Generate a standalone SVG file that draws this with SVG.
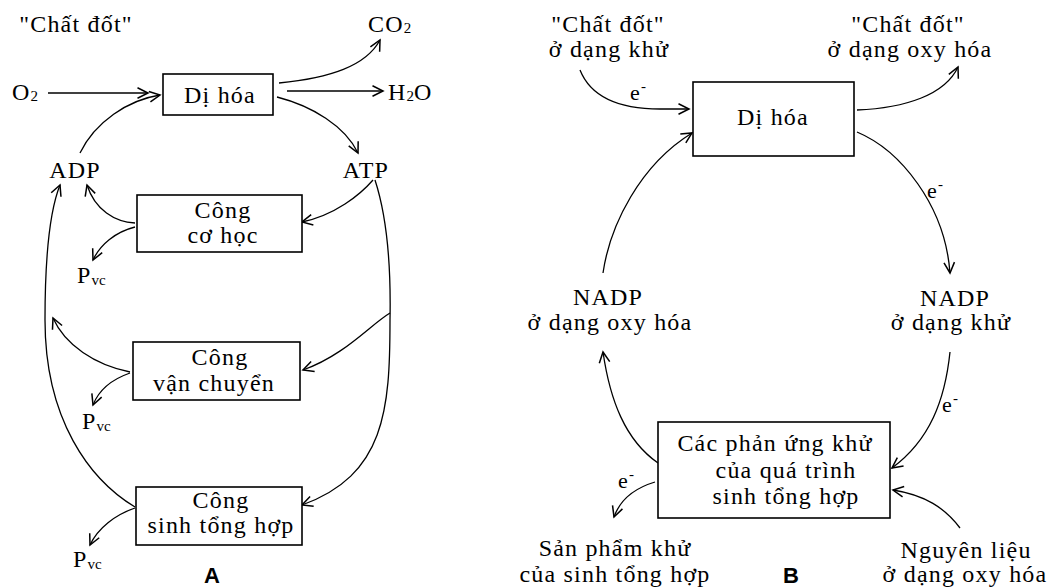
<svg xmlns="http://www.w3.org/2000/svg" width="1055" height="588" viewBox="0 0 1055 588">
<style>
.t{font-family:"Liberation Serif","Times New Roman",serif;font-size:24px;letter-spacing:1.2px;fill:#000}
.m{text-anchor:middle}
.s{font-size:15px;letter-spacing:0}
.e{font-size:22px}
.lbl{font-family:"Liberation Sans",Arial,sans-serif;font-weight:bold;font-size:22px;fill:#000;text-anchor:middle}
.box{fill:#fff;stroke:#000;stroke-width:1.6}
.c{fill:none;stroke:#000;stroke-width:1.3;marker-end:url(#ah)}
</style>
<defs>
<marker id="ah" markerUnits="userSpaceOnUse" markerWidth="14" markerHeight="14" refX="10" refY="5" orient="auto" viewBox="0 0 12 10">
<path d="M1,0.5 L10,5 L1,9.5" fill="none" stroke="#000" stroke-width="1.3"/>
</marker>
</defs>
<rect width="1055" height="588" fill="#fff"/>

<g id="connectors">
<!-- Panel A -->
<path class="c" d="M48,93 L148,93"/>
<path class="c" d="M80,153 C95,122 128,100 160,95"/>
<path class="c" d="M279,83 C330,78 366,66 380,40"/>
<path class="c" d="M287,91 L383,91"/>
<path class="c" d="M277,97 C312,106 345,126 358,153"/>
<path class="c" d="M373,180 C360,195 335,215 302,222"/>
<path class="c" d="M375,180 C388,220 391,270 390,320 C390,410 385,475 302,505"/>
<path class="c" d="M390,313 C370,325 345,355 303,370"/>
<path class="c" d="M135,507 C90,480 45,420 45,320 C45,250 50,210 60,185"/>
<path class="c" d="M135,223 C115,222 95,210 87,185"/>
<path class="c" d="M135,227 C115,232 100,245 93,260"/>
<path class="c" d="M130,372 C95,365 65,345 53,318"/>
<path class="c" d="M130,373 C110,380 98,392 93,405"/>
<path class="c" d="M135,508 C115,515 98,528 90,545"/>
<!-- Panel B -->
<path class="c" d="M580,70 C592,100 625,109 660,109 L689,109"/>
<path class="c" d="M857,110 C905,108 945,95 958,67"/>
<path class="c" d="M857,132 C900,150 945,205 950,273"/>
<path class="c" d="M603,273 C610,225 640,165 692,133"/>
<path class="c" d="M950,352 C945,400 930,440 892,468"/>
<path class="c" d="M658,463 C625,440 610,400 603,352"/>
<path class="c" d="M655,482 C635,488 620,500 614,517"/>
<path class="c" d="M960,528 C945,508 925,495 893,490"/>
</g>

<!-- Panel A nodes -->
<g id="a-chat-dot"><text class="t m" x="76" y="32">"Chất đốt"</text></g>
<g id="a-co2"><text class="t" x="368" y="32">CO<tspan class="s" dy="1">2</tspan></text></g>
<g id="a-o2"><text class="t" x="12" y="100">O<tspan class="s" dy="1">2</tspan></text></g>
<g id="a-h2o"><text class="t" x="388" y="100">H<tspan class="s" dy="1">2</tspan><tspan dy="-1">O</tspan></text></g>
<g id="a-dihoa">
<rect class="box" x="163" y="74" width="110" height="41"/>
<text class="t m" x="220" y="103">Dị hóa</text>
</g>
<g id="a-adp"><text class="t m" x="75" y="178">ADP</text></g>
<g id="a-atp"><text class="t m" x="366" y="178">ATP</text></g>
<g id="a-cong-co-hoc">
<rect class="box" x="137" y="195" width="165" height="57"/>
<text class="t m" x="223" y="218">Công</text>
<text class="t m" x="223" y="243">cơ học</text>
</g>
<g id="a-pvc1"><text class="t" x="77" y="283">P<tspan class="s" dy="2">vc</tspan></text></g>
<g id="a-cong-van-chuyen">
<rect class="box" x="133" y="342" width="167" height="58"/>
<text class="t m" x="220" y="365">Công</text>
<text class="t m" x="214" y="391">vận chuyển</text>
</g>
<g id="a-pvc2"><text class="t" x="82" y="429">P<tspan class="s" dy="2">vc</tspan></text></g>
<g id="a-cong-sinh-tong-hop">
<rect class="box" x="136" y="487" width="166" height="58"/>
<text class="t m" x="221" y="508">Công</text>
<text class="t m" x="221" y="533">sinh tổng hợp</text>
</g>
<g id="a-pvc3"><text class="t" x="73" y="567">P<tspan class="s" dy="2">vc</tspan></text></g>
<g id="label-a"><text class="lbl" x="212" y="583">A</text></g>

<!-- Panel B nodes -->
<g id="b-chat-dot-khu">
<text class="t m" x="608" y="32">"Chất đốt"</text>
<text class="t m" x="609" y="57">ở dạng khử</text>
</g>
<g id="b-chat-dot-oxy">
<text class="t m" x="908" y="32">"Chất đốt"</text>
<text class="t m" x="910" y="57">ở dạng oxy hóa</text>
</g>
<g id="b-dihoa">
<rect class="box" x="693" y="82" width="161" height="74"/>
<text class="t m" x="773" y="125">Dị hóa</text>
</g>
<g id="b-nadp-oxy">
<text class="t m" x="608" y="305">NADP</text>
<text class="t m" x="610" y="330">ở dạng oxy hóa</text>
</g>
<g id="b-nadp-khu">
<text class="t m" x="955" y="306">NADP</text>
<text class="t m" x="951" y="330">ở dạng khử</text>
</g>
<g id="b-phan-ung">
<rect class="box" x="658" y="422" width="232" height="96"/>
<text class="t m" x="775" y="451">Các phản ứng khử</text>
<text class="t m" x="786" y="478">của quá trình</text>
<text class="t m" x="786" y="504">sinh tổng hợp</text>
</g>
<g id="b-san-pham">
<text class="t m" x="615" y="556">Sản phẩm khử</text>
<text class="t m" x="615" y="582">của sinh tổng hợp</text>
</g>
<g id="b-nguyen-lieu">
<text class="t m" x="966" y="558">Nguyên liệu</text>
<text class="t m" x="965" y="582">ở dạng oxy hóa</text>
</g>
<g id="b-e-labels">
<text class="t e" x="630" y="100">e<tspan class="s" dy="-9">-</tspan></text>
<text class="t e" x="927" y="198">e<tspan class="s" dy="-9">-</tspan></text>
<text class="t e" x="942" y="412">e<tspan class="s" dy="-9">-</tspan></text>
<text class="t e" x="618" y="488">e<tspan class="s" dy="-9">-</tspan></text>
</g>
<g id="label-b"><text class="lbl" x="791" y="583">B</text></g>
</svg>
